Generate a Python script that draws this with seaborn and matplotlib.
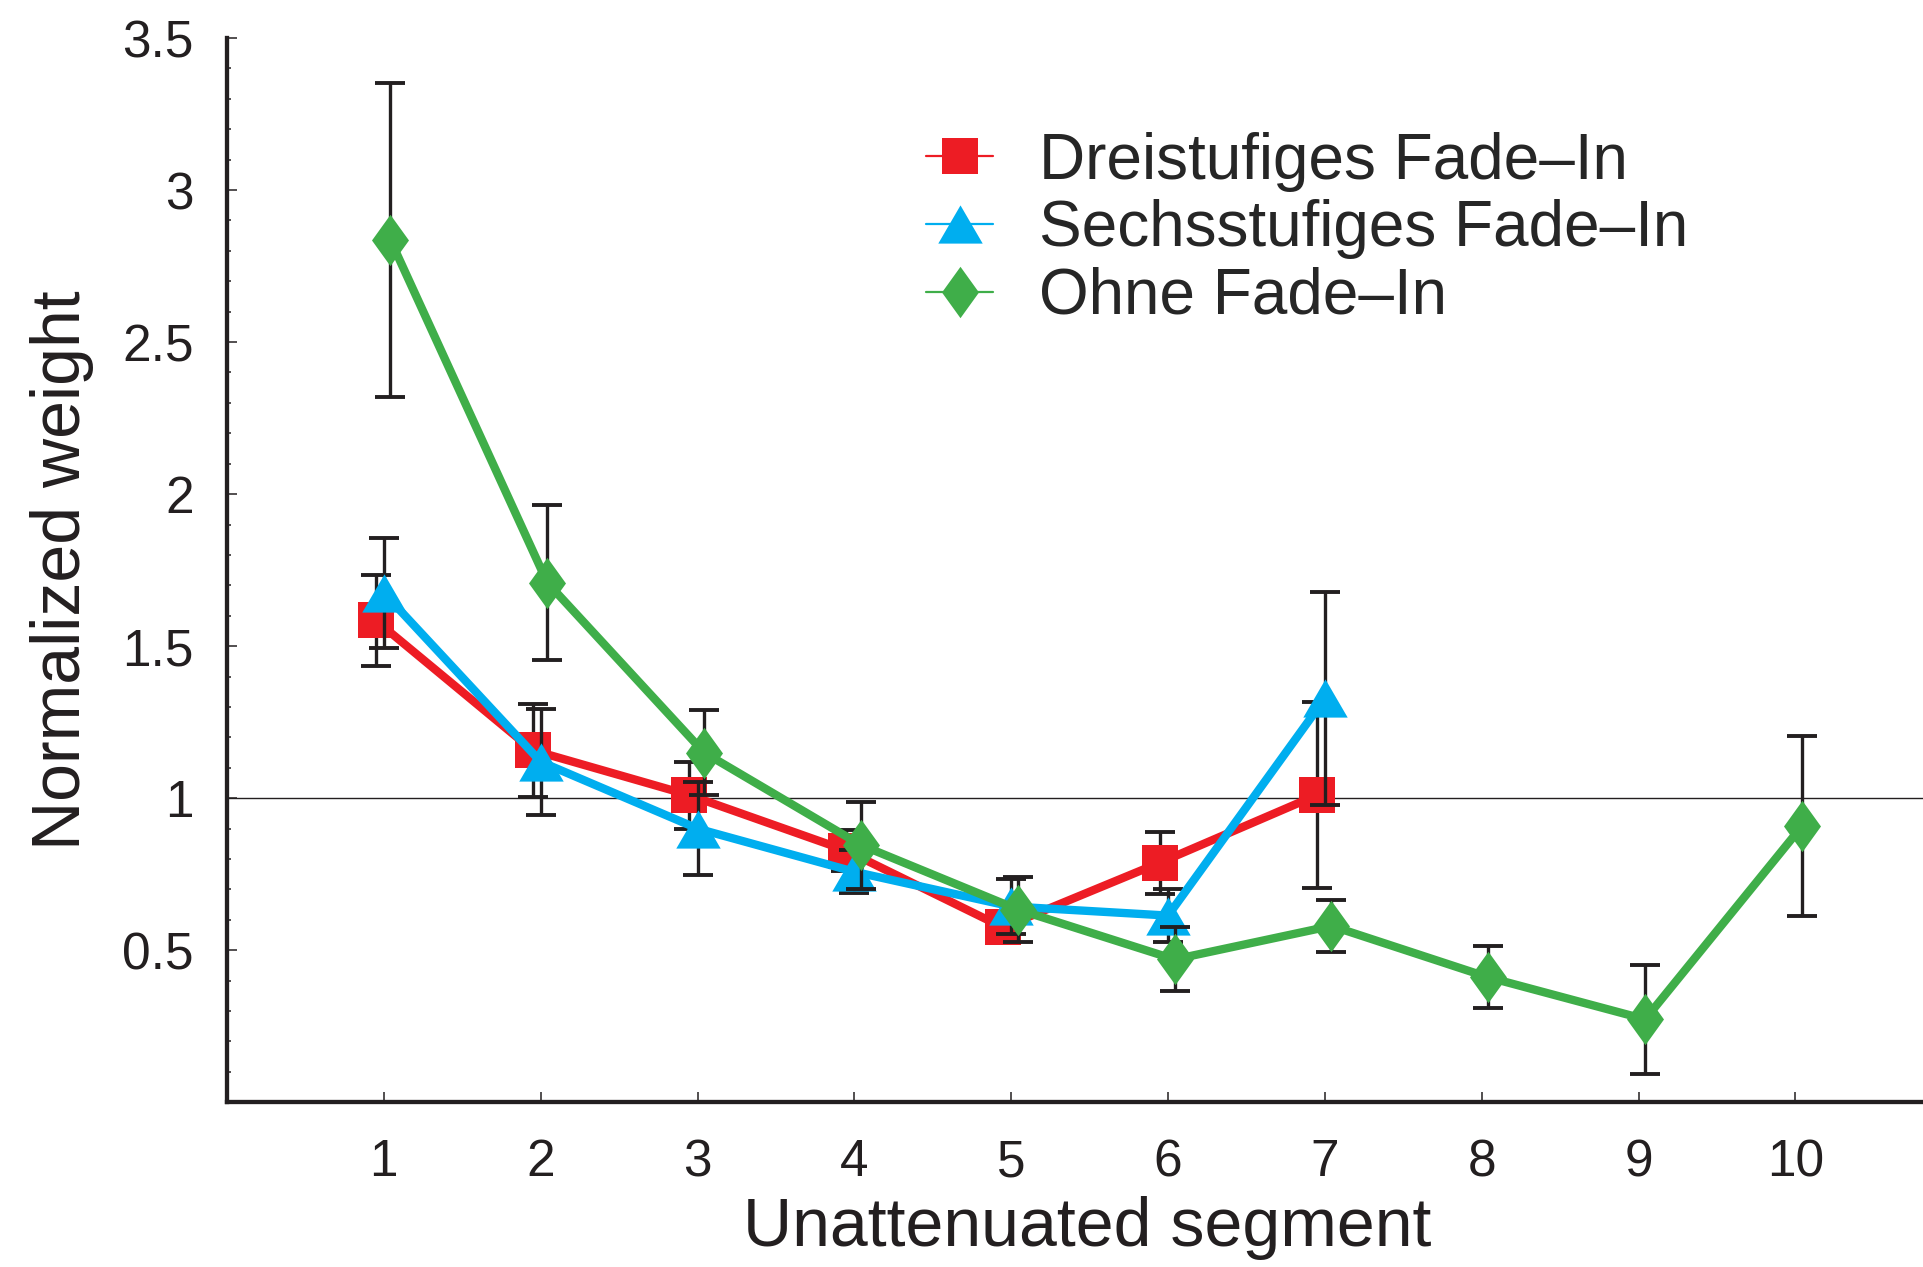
import matplotlib
matplotlib.use("Agg")
import matplotlib.pyplot as plt
from matplotlib.lines import Line2D
from matplotlib.ticker import FixedLocator, MultipleLocator
import seaborn as sns
import numpy as np
import pandas as pd

# values
segments = [1, 2, 3, 4, 5, 6, 7, 8, 9, 10]
series_names = ["Dreistufiges Fade\u2013In", "Sechsstufiges Fade\u2013In", "Ohne Fade\u2013In"]
drei_mean = [1.585, 1.158, 1.010, 0.828, 0.575, 0.788, 1.010]
drei_err = [0.150, 0.153, 0.110, 0.068, 0.040, 0.102, 0.305]
sechs_mean = [1.675, 1.120, 0.900, 0.758, 0.644, 0.614, 1.328]
sechs_err = [0.180, 0.175, 0.152, 0.071, 0.089, 0.088, 0.350]
ohne_mean = [2.836, 1.709, 1.150, 0.846, 0.634, 0.470, 0.580, 0.411, 0.273, 0.908]
ohne_err = [0.515, 0.254, 0.140, 0.143, 0.106, 0.105, 0.086, 0.102, 0.180, 0.295]
y_ticks = [0.5, 1, 1.5, 2, 2.5, 3, 3.5]
y_ticklabels = ["0.5", "1", "1.5", "2", "2.5", "3", "3.5"]

sns.set_style("ticks")
plt.rcParams["font.family"] = ["Liberation Sans", "DejaVu Sans"]

ink = "#231F20"
colors = ["#ED1C24", "#00AEEF", "#3FAE49"]
# markers: square, wide triangle, slim diamond
tri = [(-0.5, -0.43), (0.5, -0.43), (0.0, 0.43)]
dia = [(0.0, 0.5), (0.36, 0.0), (0.0, -0.5), (-0.36, 0.0)]
markers = ["s", tri, dia]
msizes = [26, 32, 37]
offsets = [-0.052, 0.0, 0.042]  # small horizontal shift per series

fig = plt.figure(figsize=(19.24, 12.67), dpi=100)
ax = fig.add_axes([0.118, 0.130, 0.882, 0.840])

ax.axhline(1, color=ink, lw=1.0, zorder=1)

data = [(drei_mean, drei_err), (sechs_mean, sechs_err), (ohne_mean, ohne_err)]
for i, (mean, err) in enumerate(data):
    n = len(mean)
    df = pd.DataFrame({"segment": np.array(segments[:n]) + offsets[i],
                       "weight": mean})
    ax.errorbar(df["segment"], df["weight"], yerr=err, fmt="none",
                ecolor=ink, elinewidth=2.4, capsize=10.5, capthick=2.8,
                zorder=2 + i * 0.2)
    sns.lineplot(data=df, x="segment", y="weight", ax=ax, color=colors[i],
                 linewidth=6, marker=markers[i], markersize=msizes[i],
                 markeredgewidth=0, errorbar=None, zorder=2.1 + i * 0.2)

ax.set_xlim(0, 10.82)
ax.set_ylim(0, 3.5)
ax.set_xticks(segments)
ax.set_xticklabels([str(s) for s in segments])
ax.yaxis.set_major_locator(FixedLocator(y_ticks))
ax.set_yticklabels(y_ticklabels)
ax.yaxis.set_minor_locator(MultipleLocator(0.1))

sns.despine(ax=ax)
for side in ["left", "bottom"]:
    ax.spines[side].set_linewidth(3.1)
    ax.spines[side].set_color(ink)

ax.tick_params(axis="both", which="major", direction="in", colors=ink,
               labelsize=37, width=1.1)
ax.tick_params(axis="x", which="major", length=7, pad=26)
ax.tick_params(axis="y", which="major", length=7, pad=24)
ax.tick_params(axis="y", which="minor", direction="in", length=3.2,
               width=1.1, color=ink)

ax.set_xlabel("Unattenuated segment", fontsize=49, color=ink)
ax.set_ylabel("Normalized weight", fontsize=49, color=ink)
ax.xaxis.set_label_coords(0.507, -0.088)
ax.yaxis.set_label_coords(-0.097, 0.5)
ax.yaxis.label.set_va("center")

handles = [Line2D([], [], color=colors[i], lw=1.6, marker=markers[i],
                  markersize=msizes[i], markeredgewidth=0)
           for i in range(3)]
ax.legend(handles, series_names, loc="upper left",
          bbox_to_anchor=(0.412, 0.912), frameon=False, fontsize=46,
          handlelength=1.05, handletextpad=0.71, labelspacing=0.12,
          borderpad=0, borderaxespad=0)

fig.savefig("out.png", dpi=100)
